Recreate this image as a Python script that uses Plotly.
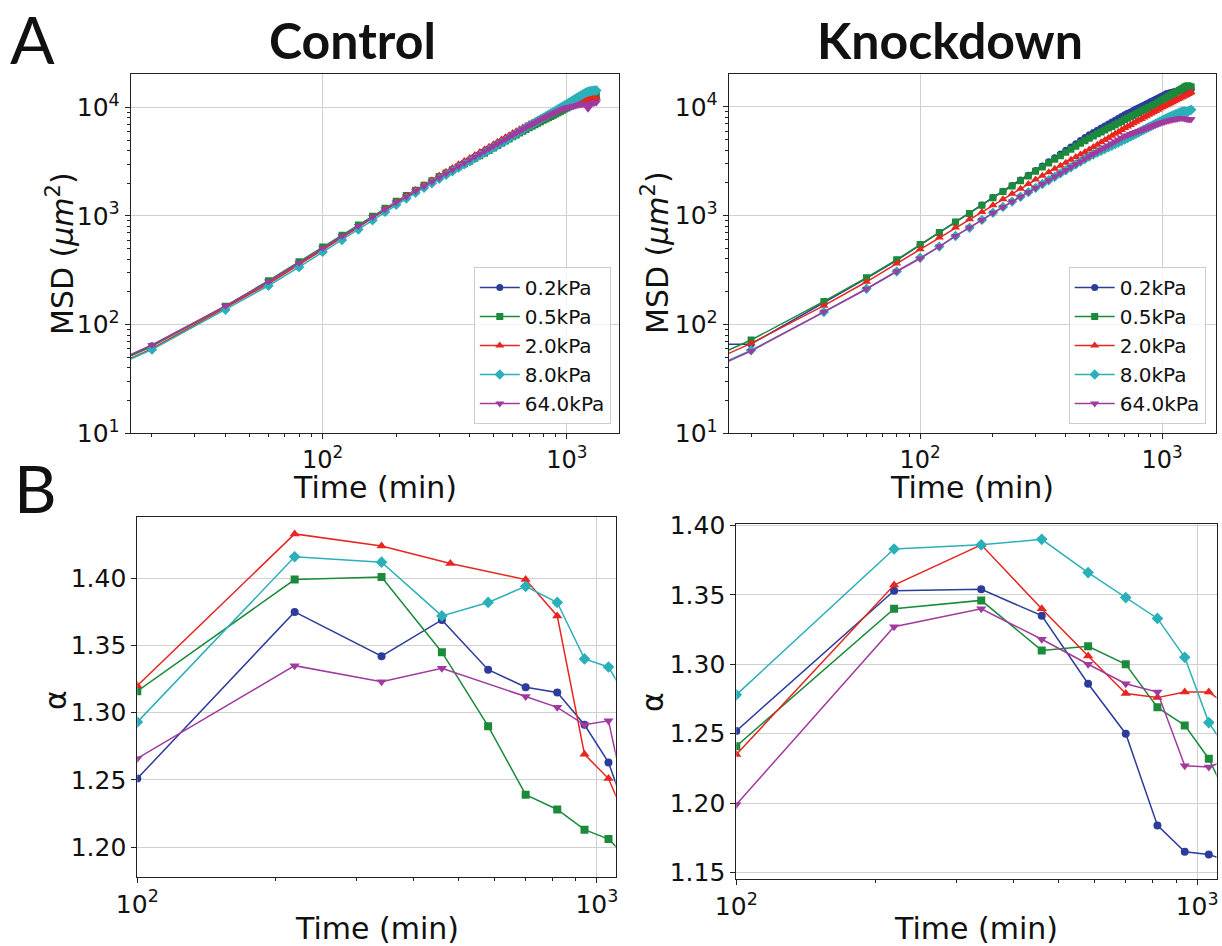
import plotly.graph_objects as go

W, H = 1222, 946

# ---------------- data ----------------
labels = ["0.2kPa", "0.5kPa", "2.0kPa", "8.0kPa", "64.0kPa"]
colors = ["#2b3c9b", "#1b8a3a", "#e6261f", "#2bb0ba", "#a13a9e"]
symbols = ["circle", "square", "triangle-up", "diamond", "triangle-down"]

msd_time = list(range(20, 1321, 20))
msd_edge_time = 16

ctrl_msd_02 = [64,147,247,369,503,648,803,970,1146,1330,
               1507,1687,1871,2061,2255,2452,2654,2860,3067,3280,
               3495,3712,3932,4155,4381,4611,4842,5077,5315,5553,
               5786,6019,6255,6492,6732,6965,7196,7429,7664,7900,
               8120,8340,8560,8780,9000,9210,9420,9630,9840,10050,
               10250,10440,10620,10800,10970,11130,11280,11420,11550,11670,
               11770,11860,11940,12010,12070,12120]
ctrl_msd_05 = [63,148,254,380,517,666,825,997,1176,1364,
               1544,1728,1917,2111,2310,2487,2664,2842,3016,3192,
               3402,3575,3787,4002,4220,4442,4665,4890,5120,5348,
               5572,5796,6024,6252,6484,6708,6930,7155,7381,7609,
               7820,8030,8243,8454,8663,8900,9150,9400,9640,9870,
               10100,10320,10540,10750,10960,11160,11360,11550,11740,11920,
               12100,12270,12440,12600,12760,12900]
ctrl_msd_20 = [60,142,238,356,486,628,785,967,1153,1350,
               1540,1733,1931,2136,2356,2560,2771,2986,3201,3423,
               3647,3873,4103,4336,4572,4812,5053,5298,5546,5794,
               6036,6280,6526,6773,7024,7231,7435,7676,7881,8084,
               8309,8532,8758,8982,9204,9410,9610,9810,10010,10200,
               10380,10560,10730,10900,11060,11220,11370,11520,11660,11790,
               11910,12020,12120,12200,12260,12300]
ctrl_msd_80 = [59,137,228,338,467,600,750,915,1090,1270,
               1450,1633,1816,2004,2197,2388,2584,2785,2986,3192,
               3402,3612,3827,4044,4264,4488,4713,4941,5200,5460,
               5720,5980,6240,6500,6754,7000,7260,7520,7780,8040,
               8300,8560,8820,9080,9350,9620,9900,10180,10460,10750,
               11050,11350,11650,11950,12250,12550,12850,13150,13450,13700,
               13900,14050,14150,14250,14300,14300]
ctrl_msd_640 = [65,149,249,372,507,653,809,977,1153,1337,
                1514,1694,1879,2070,2265,2462,2664,2871,3078,3291,
                3507,3724,3945,4169,4396,4627,4859,5094,5333,5571,
                5804,6038,6275,6513,6754,6987,7219,7453,7689,7926,
                8146,8365,8586,8806,9024,9225,9423,9620,9820,9950,
                10050,10150,10250,10350,10450,10550,10620,10700,10750,10800,
                9700,10600,10800,10900,11000,11100]
ctrl_msd_edge = [51.2, 50.4, 48.0, 47.2, 52.0]

kd_msd_02 = [66,158,266,389,537,697,871,1047,1255,1469,
             1680,1898,2124,2358,2600,2862,3133,3410,3694,3985,
             4282,4588,4900,5220,5550,5825,6105,6392,6677,6970,
             7260,7553,7850,8150,8450,8720,8995,9268,9540,9815,
             10090,10370,10640,10920,11190,11470,11750,12030,12310,12590,
             12880,13180,13340,13490,13650,13800,13870,13960,14060,14130,
             14190,14290,14350,14420,14450,14520]
kd_msd_05 = [72,163,269,394,543,700,875,1050,1250,1462,
             1665,1875,2090,2320,2560,2800,3050,3300,3560,3820,
             4080,4350,4620,4890,5160,5400,5650,5890,6130,6380,
             6620,6860,7110,7350,7600,7850,8100,8350,8600,8850,
             9100,9350,9600,9850,10100,10350,10600,10900,11200,11500,
             11800,12100,12400,12700,13000,13300,13600,13900,14200,14500,
             14800,15200,15500,15600,15400,15200]
kd_msd_20 = [67,149,247,364,492,631,777,925,1080,1244,
             1414,1591,1773,1959,2150,2329,2511,2695,2882,3072,
             3263,3457,3653,3851,4050,4270,4494,4720,4949,5180,
             5415,5652,5892,6134,6380,6605,6831,7059,7289,7519,
             7750,7984,8218,8453,8691,8929,9168,9409,9651,9900,
             10126,10352,10580,10808,11036,11265,11495,11725,11956,12187,
             12419,12651,12885,13118,13352,13600]
kd_msd_80 = [58,130,213,307,410,520,650,775,915,1065,
             1205,1348,1495,1646,1800,1958,2118,2282,2448,2616,
             2788,2962,3137,3316,3500,3648,3797,3947,4096,4246,
             4396,4547,4698,4849,5000,5163,5327,5491,5656,5822,
             5988,6155,6322,6490,6658,6828,6998,7167,7338,7500,
             7650,7820,7980,8140,8300,8440,8580,8720,8860,9000,
             9100,9150,9000,9100,9250,9400]
kd_msd_640 = [57,131,212,307,404,520,652,777,915,1065,
              1205,1348,1495,1646,1800,1960,2121,2287,2455,2625,
              2799,2975,3153,3335,3520,3697,3877,4058,4241,4425,
              4611,4798,4987,5178,5370,5495,5621,5744,5868,5991,
              6114,6236,6357,6478,6599,6719,6838,6957,7076,7200,
              7280,7360,7440,7520,7600,7680,7750,7800,7850,7900,
              7880,7820,7750,7700,7650,7700]
kd_msd_edge = [66.0, 57.6, 53.6, 46.4, 45.6]

alpha_time = [100, 220, 340, 460, 580, 700, 820, 940, 1060, 1180]
ctrl_alpha_time_20 = [100, 220, 340, 480, 700, 820, 940, 1060, 1180]
ctrl_alpha_time_640 = [100, 220, 340, 460, 700, 820, 940, 1060, 1180]

ctrl_alpha_02 = [1.251, 1.375, 1.342, 1.369, 1.332, 1.319, 1.315, 1.291, 1.263, 1.218]
ctrl_alpha_05 = [1.316, 1.399, 1.401, 1.345, 1.290, 1.239, 1.228, 1.213, 1.206, 1.190]
ctrl_alpha_20 = [1.320, 1.433, 1.424, 1.411, 1.399, 1.372, 1.269, 1.251, 1.214]
ctrl_alpha_80 = [1.293, 1.416, 1.412, 1.372, 1.382, 1.394, 1.382, 1.340, 1.334, 1.307]
ctrl_alpha_640 = [1.266, 1.335, 1.323, 1.333, 1.312, 1.304, 1.291, 1.294, 1.221]

kd_alpha_02 = [1.252, 1.353, 1.354, 1.335, 1.286, 1.250, 1.184, 1.165, 1.163, 1.158]
kd_alpha_05 = [1.241, 1.340, 1.346, 1.310, 1.313, 1.300, 1.269, 1.256, 1.232, 1.200]
kd_alpha_20 = [1.235, 1.357, 1.386, 1.340, 1.306, 1.279, 1.276, 1.280, 1.280, 1.269]
kd_alpha_80 = [1.278, 1.383, 1.386, 1.390, 1.366, 1.348, 1.333, 1.305, 1.258, 1.235]
kd_alpha_640 = [1.199, 1.327, 1.340, 1.318, 1.300, 1.286, 1.280, 1.227, 1.226, 1.232]

ctrl_msd = [ctrl_msd_02, ctrl_msd_05, ctrl_msd_20, ctrl_msd_80, ctrl_msd_640]
kd_msd = [kd_msd_02, kd_msd_05, kd_msd_20, kd_msd_80, kd_msd_640]
ctrl_alpha = [ctrl_alpha_02, ctrl_alpha_05, ctrl_alpha_20, ctrl_alpha_80, ctrl_alpha_640]
ctrl_alpha_times = [alpha_time, alpha_time, ctrl_alpha_time_20, alpha_time, ctrl_alpha_time_640]
kd_alpha = [kd_alpha_02, kd_alpha_05, kd_alpha_20, kd_alpha_80, kd_alpha_640]

for s in ctrl_msd + kd_msd:
    assert len(s) == len(msd_time), len(s)

# ---------------- figure ----------------
FONT = "DejaVu Sans"
TITLE_FONT = "Lato"
msd_marker_sizes = [7, 7, 8, 8, 8]
alpha_marker_sizes = [8, 8, 9, 9, 9]

fig = go.Figure()


def add_msd(series, edges, xa, ya, legend):
    for i in range(5):
        fig.add_trace(go.Scatter(
            x=[msd_edge_time, msd_time[0]], y=[edges[i], series[i][0]],
            mode="lines", line=dict(color=colors[i], width=1.5),
            xaxis=xa, yaxis=ya, showlegend=False, hoverinfo="skip"))
        fig.add_trace(go.Scatter(
            x=msd_time, y=series[i], mode="lines+markers", name=labels[i],
            line=dict(color=colors[i], width=1.5),
            marker=dict(symbol=symbols[i], size=msd_marker_sizes[i], color=colors[i]),
            xaxis=xa, yaxis=ya, legend=legend, legendgroup=legend + str(i)))


def add_alpha(times, series, xa, ya):
    for i in range(5):
        fig.add_trace(go.Scatter(
            x=times[i], y=series[i], mode="lines+markers", name=labels[i],
            line=dict(color=colors[i], width=1.5),
            marker=dict(symbol=symbols[i], size=alpha_marker_sizes[i], color=colors[i]),
            xaxis=xa, yaxis=ya, showlegend=False))


add_msd(ctrl_msd, ctrl_msd_edge, "x", "y", "legend")
add_msd(kd_msd, kd_msd_edge, "x2", "y2", "legend2")
add_alpha(ctrl_alpha_times, ctrl_alpha, "x3", "y3")
add_alpha([alpha_time] * 5, kd_alpha, "x4", "y4")


def dom_x(a, b):
    return [a / W, b / W]


def dom_y(top, bottom):
    return [1 - bottom / H, 1 - top / H]


minor_log = [20, 30, 40, 50, 60, 70, 80, 90, 200, 300, 400, 500, 600, 700, 800, 900]
minor_log_y = minor_log + [2000, 3000, 4000, 5000, 6000, 7000, 8000, 9000]
tick_font = dict(family=FONT, size=25, color="#111")

common = dict(showline=True, linecolor="#222", linewidth=1, mirror=True,
              ticks="outside", ticklen=5, tickwidth=1, tickcolor="#222",
              gridcolor="#d0d0d0", gridwidth=1, zeroline=False, showgrid=True,
              automargin=False)

log_x = dict(type="log", tickvals=[100, 1000],
             ticktext=["10<sup>2</sup>", "10<sup>3</sup>"],
             tickfont=dict(family=FONT, size=24, color="#111"),
             minor=dict(tickvals=minor_log, ticks="outside", ticklen=3, tickcolor="#222",
                        showgrid=False), **common)
log_y = dict(type="log", tickvals=[10, 100, 1000, 10000],
             ticktext=["10<sup>1</sup>", "10<sup>2</sup>", "10<sup>3</sup>", "10<sup>4</sup>"],
             tickfont=tick_font,
             minor=dict(tickvals=minor_log_y, ticks="outside", ticklen=3, tickcolor="#222",
                        showgrid=False), **common)
alpha_x = dict(type="log", tickvals=[100, 1000],
               ticktext=["10<sup>2</sup>", "10<sup>3</sup>"], tickfont=dict(family=FONT, size=25, color="#111"),
               minor=dict(tickvals=[200, 300, 400, 500, 600, 700, 800, 900], ticks="outside",
                          ticklen=3, tickcolor="#222", showgrid=False), **common)
alpha_y = dict(tickvals=[1.15, 1.20, 1.25, 1.30, 1.35, 1.40], tickformat=".2f",
               tickfont=dict(family=FONT, size=25, color="#111"), **common)

legend_common = dict(yanchor="bottom", xanchor="right",
                     bgcolor="rgba(255,255,255,0.8)", bordercolor="#cccccc", borderwidth=1,
                     font=dict(family=FONT, size=20, color="#111"), tracegroupgap=0,
                     itemwidth=40)

fig.update_layout(
    template="none",
    width=W, height=H, margin=dict(l=0, r=0, t=0, b=0, autoexpand=False),
    paper_bgcolor="white", plot_bgcolor="white",
    font=dict(family=FONT, color="#111"),
    xaxis=dict(domain=dom_x(130.7, 618.7), range=[1.214, 3.212], anchor="y", **log_x),
    yaxis=dict(domain=dom_y(74.3, 433.3), range=[1.0, 4.304], anchor="x", **log_y),
    xaxis2=dict(domain=dom_x(728.7, 1216), range=[1.2085, 3.223], anchor="y2", **log_x),
    yaxis2=dict(domain=dom_y(73.7, 433.3), range=[1.0, 4.305], anchor="x2", **log_y),
    xaxis3=dict(domain=dom_x(137.3, 615.7), range=[2.0, 3.041], anchor="y3", **alpha_x),
    yaxis3=dict(domain=dom_y(516.7, 876.7), range=[1.178, 1.4458], anchor="x3", **alpha_y),
    xaxis4=dict(domain=dom_x(736.3, 1216.5), range=[2.0, 3.042], anchor="y4", **alpha_x),
    yaxis4=dict(domain=dom_y(524, 879), range=[1.1454, 1.401], anchor="x4", **alpha_y),
    legend=dict(x=610.8 / W, y=1 - 424 / H, **legend_common),
    legend2=dict(x=1205.7 / W, y=1 - 424 / H, **legend_common),
)

ann = []


def text(x, y, s, size, family=FONT, bold=False, angle=0):
    ann.append(dict(x=x / W, y=1 - y / H, xref="paper", yref="paper", text=("<b>%s</b>" % s) if bold else s,
                    showarrow=False, xanchor="center", yanchor="middle", textangle=angle,
                    font=dict(family=family, size=size, color="#111")))


text(352, 40, "Control", 50, TITLE_FONT, bold=True)
text(950, 40, "Knockdown", 50, TITLE_FONT, bold=True)
text(32, 38, "A", 66, TITLE_FONT)
text(35, 488, "B", 66, TITLE_FONT)
text(374.7, 488, "Time (min)", 30)
text(972, 488, "Time (min)", 30)
text(376.5, 928, "Time (min)", 30)
text(976, 928, "Time (min)", 30)
text(60, 253, "MSD (<i>μm</i><sup>2</sup>)", 30, angle=-90)
text(655, 253, "MSD (<i>μm</i><sup>2</sup>)", 30, angle=-90)
text(55, 700, "α", 30, angle=-90)
text(652, 702, "α", 30, angle=-90)
fig.update_layout(annotations=ann)

fig.write_html("out.html")
